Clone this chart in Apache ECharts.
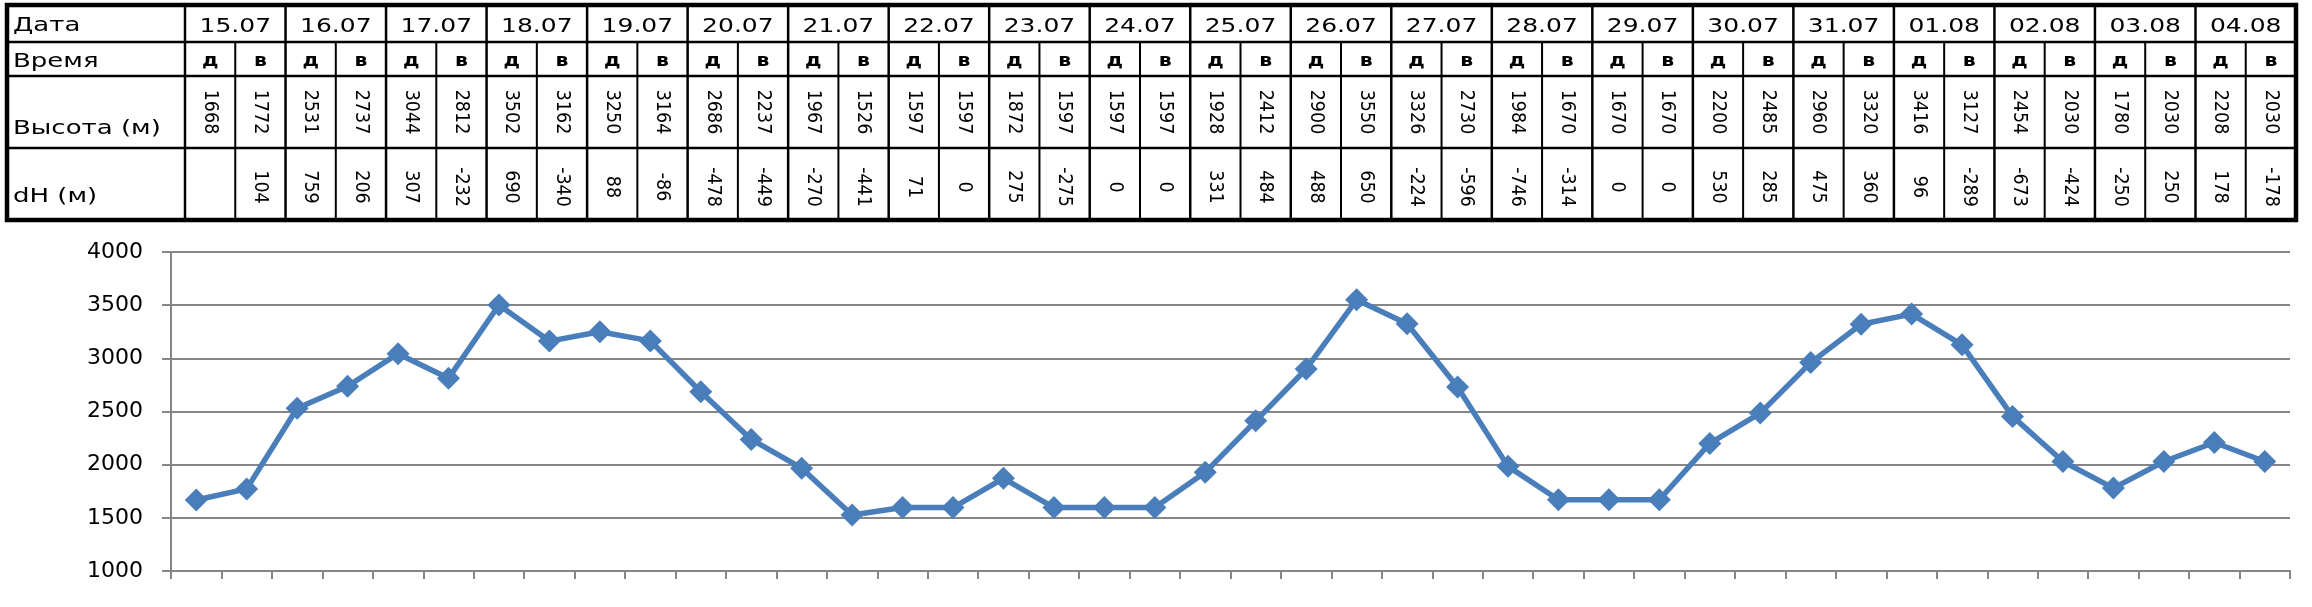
<!DOCTYPE html>
<html>
<head>
<meta charset="utf-8">
<script src="https://cdn.jsdelivr.net/npm/echarts@6/dist/echarts.min.js"></script>
<style>
  html, body { margin: 0; padding: 0; background: #fff; }
  #chart { width: 2312px; height: 607px; }
</style>
</head>
<body>
<div id="chart"></div>
<script>
// ---- data ----
const dates = ['15.07','16.07','17.07','18.07','19.07','20.07','21.07','22.07','23.07','24.07','25.07',
               '26.07','27.07','28.07','29.07','30.07','31.07','01.08','02.08','03.08','04.08'];
const times = ['д','в','д','в','д','в','д','в','д','в','д','в','д','в','д','в','д','в','д','в','д',
               'в','д','в','д','в','д','в','д','в','д','в','д','в','д','в','д','в','д','в','д','в'];
const heights = [1668,1772,2531,2737,3044,2812,3502,3162,3250,3164,2686,2237,1967,1526,1597,1597,
                 1872,1597,1597,1597,1928,2412,2900,3550,3326,2730,1984,1670,1670,1670,2200,2485,
                 2960,3320,3416,3127,2454,2030,1780,2030,2208,2030];
const dH = ['',104,759,206,307,-232,690,-340,88,-86,-478,-449,-270,-441,71,0,275,-275,0,0,331,484,
            488,650,-224,-596,-746,-314,0,0,530,285,475,360,96,-289,-673,-424,-250,250,178,-178];
const rowLabels = ['Дата', 'Время', 'Высота (м)', 'dH (м)'];
const yMin = 1000, yMax = 4000, yStep = 500;

// ---- layout of the table (positions only) ----
const FONT = 'DejaVu Sans';
const T = { left: 7, right: 2296, rows: [5, 42, 76, 148, 220], labelRight: 185 };
const n = heights.length;
const colW = (T.right - T.labelRight) / n;

const els = [];
els.push({ type: 'rect', z: 0, shape: { x: T.left, y: T.rows[0], width: T.right - T.left, height: T.rows[4] - T.rows[0] },
           style: { fill: '#fff', stroke: null } });
function line(x1, y1, x2, y2, w) {
  els.push({ type: 'line', z: 2, shape: { x1, y1, x2, y2 }, style: { stroke: '#000', lineWidth: w } });
}
for (let r = 1; r < 4; r++) line(T.left, T.rows[r], T.right, T.rows[r], 2.5);
line(T.labelRight, T.rows[0], T.labelRight, T.rows[4], 2.5);
for (let i = 1; i < dates.length; i++) {
  const x = T.labelRight + 2 * i * colW;
  line(x, T.rows[0], x, T.rows[4], 2.5);
}
for (let i = 0; i < dates.length; i++) {
  const x = T.labelRight + (2 * i + 1) * colW;
  line(x, T.rows[1], x, T.rows[4], 2);
}
els.push({ type: 'rect', z: 3, shape: { x: T.left, y: T.rows[0], width: T.right - T.left, height: T.rows[4] - T.rows[0] },
           style: { fill: null, stroke: '#000', lineWidth: 4.5 } });

function text(str, x, y, size, sx, align, weight) {
  els.push({
    type: 'text', z: 4, x: x, y: y, scaleX: sx,
    style: { text: String(str), x: 0, y: 0, fill: '#000', fontSize: size, fontFamily: FONT,
             fontWeight: weight || 'normal', align: align, verticalAlign: 'middle' }
  });
}
// row labels
const labelY = [26, 62, 129, 197];
rowLabels.forEach((s, r) => text(s, 13, labelY[r], 20, 1.3, 'left'));
// dates
dates.forEach((d, i) => text(d, T.labelRight + (2 * i + 1) * colW, 27, 20, 1.25, 'center'));
// times
times.forEach((t, i) => text(t, T.labelRight + (i + 0.5) * colW, 62, 17, 1.2, 'center', 'bold'));
// heights and dH (rotated, reading downward)
function rot(str, x, y) {
  els.push({ type: 'text', z: 4, x: x, y: y, rotation: -Math.PI / 2, scaleY: 1.15,
             style: { text: String(str), x: 0, y: 0, fill: '#000', fontSize: 17.5, fontFamily: FONT,
                      align: 'center', verticalAlign: 'middle' } });
}
heights.forEach((h, i) => rot(h, T.labelRight + (i + 0.5) * colW, 112));
dH.forEach((v, i) => rot(v, T.labelRight + (i + 0.5) * colW, 187));

// ---- chart ----
const chart = echarts.init(document.getElementById('chart'), null, { renderer: 'canvas' });
const cats = times.map((t, i) => dates[Math.floor(i / 2)] + ' ' + t);
chart.setOption({
  backgroundColor: '#fff',
  grid: { left: 171, right: 22, top: 252, bottom: 36, containLabel: false, outerBoundsMode: 'none' },
  xAxis: {
    type: 'category', data: cats, boundaryGap: true,
    axisLine: { show: true, lineStyle: { color: '#868686', width: 2 } },
    axisTick: { show: true, length: 8, interval: 0, lineStyle: { color: '#868686', width: 2 } },
    axisLabel: { show: false },
    splitLine: { show: false }
  },
  yAxis: {
    type: 'value', min: yMin, max: yMax, interval: yStep,
    axisLine: { show: true, lineStyle: { color: '#868686', width: 2 } },
    axisTick: { show: true, length: 9, lineStyle: { color: '#868686', width: 2 } },
    axisLabel: { color: '#000', fontFamily: FONT, fontSize: 22, margin: 28, formatter: (v) => String(v) },
    splitLine: { show: true, lineStyle: { color: '#868686', width: 2 } }
  },
  series: [{
    type: 'line', data: heights, animation: false,
    symbol: 'diamond', symbolSize: 23, showAllSymbol: true,
    lineStyle: { color: '#4a7ebb', width: 5.5 },
    itemStyle: { color: '#4a7ebb' },
    z: 5
  }],
  graphic: { elements: els }
});
</script>
</body>
</html>
